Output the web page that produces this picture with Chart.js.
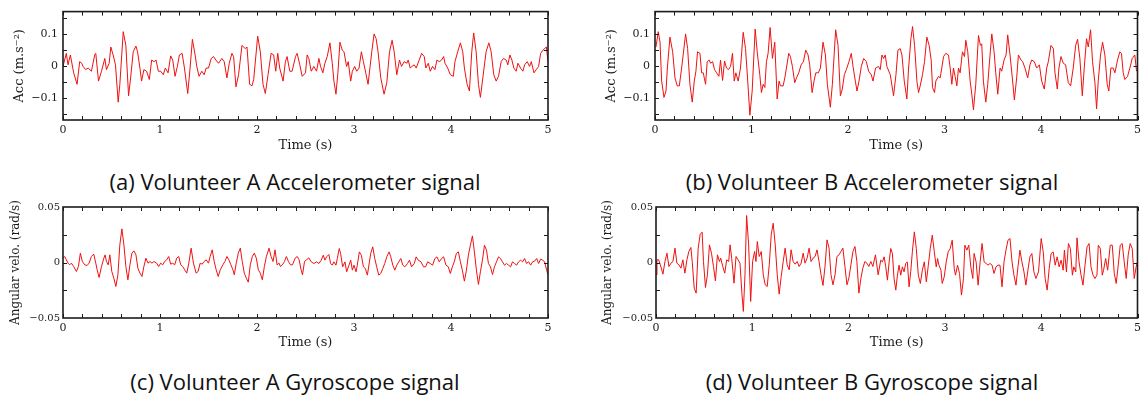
<!DOCTYPE html>
<html>
<head>
<meta charset="utf-8">
<script src="https://cdn.jsdelivr.net/npm/chart.js@4/dist/chart.umd.min.js"></script>
<style>
  body { margin: 0; background: #fff; width: 1145px; height: 396px; position: relative; overflow: hidden; }
  canvas { position: absolute; }
  .cap { position: absolute; font-family: "Open Sans", sans-serif; font-size: 22px; color: #111; text-align: center; white-space: nowrap; line-height: 26px; }
</style>
</head>
<body>
<canvas id="accA" width="560" height="160" style="left:0;top:0"></canvas>
<canvas id="accB" width="553" height="160" style="left:592px;top:0"></canvas>
<canvas id="gyroA" width="560" height="160" style="left:0;top:198px"></canvas>
<canvas id="gyroB" width="553" height="160" style="left:592px;top:198px"></canvas>
<div class="cap" style="left:85px;width:420px;top:168px">(a) Volunteer A Accelerometer signal</div>
<div class="cap" style="left:662px;width:420px;top:168px">(b) Volunteer B Accelerometer signal</div>
<div class="cap" style="left:85px;width:420px;top:368px">(c) Volunteer A Gyroscope signal</div>
<div class="cap" style="left:662px;width:420px;top:368px">(d) Volunteer B Gyroscope signal</div>
<script>
// time ticks (s)
const timeLabels = [0, 1, 2, 3, 4, 5];
const timeMinor = [0, 0.2, 0.4, 0.6, 0.8, 1, 1.2, 1.4, 1.6, 1.8, 2, 2.2, 2.4, 2.6, 2.8, 3,
                   3.2, 3.4, 3.6, 3.8, 4, 4.2, 4.4, 4.6, 4.8, 5];
const accLabels = [-0.1, 0, 0.1];
const accMinor = [-0.15, -0.1, -0.05, 0, 0.05, 0.1, 0.15];
const gyroLabels = [-0.05, 0, 0.05];
const gyroMinor = [-0.025, 0, 0.025];

// Volunteer A accelerometer (m.s^-2)
const accATime = [0, .034, .052, .076, .110, .145, .172, .193, .207, .234, .259, .293, .328, .338, .366, .397,
  .431, .448, .476, .493, .517, .541, .569, .586, .621, .648, .676, .697, .724, .752, .769, .793, .810, .834,
  .862, .890, .914, .938, .959, .983, 1.007, 1.034, 1.055, 1.083, 1.110, 1.131, 1.155, 1.179, 1.200, 1.228,
  1.252, 1.286, 1.310, 1.334, 1.362, 1.379, 1.403, 1.431, 1.455, 1.476, 1.500, 1.528, 1.552, 1.576, 1.603,
  1.638, 1.662, 1.690, 1.714, 1.741, 1.759, 1.783, 1.810, 1.845, 1.879, 1.897, 1.924, 1.948, 1.966, 2.007,
  2.034, 2.062, 2.086, 2.114, 2.145, 2.172, 2.193, 2.214, 2.234, 2.269, 2.293, 2.310, 2.338, 2.362, 2.397,
  2.414, 2.441, 2.466, 2.500, 2.517, 2.534, 2.559, 2.586, 2.614, 2.638, 2.655, 2.679, 2.700, 2.724, 2.752,
  2.776, 2.793, 2.814, 2.834, 2.855, 2.879, 2.897, 2.924, 2.941, 2.966, 2.983, 3.007, 3.028, 3.052, 3.076,
  3.097, 3.121, 3.145, 3.166, 3.183, 3.207, 3.228, 3.248, 3.276, 3.310, 3.338, 3.366, 3.393, 3.414, 3.441,
  3.469, 3.490, 3.517, 3.545, 3.559, 3.579, 3.597, 3.621, 3.641, 3.672, 3.697, 3.724, 3.741, 3.766, 3.786,
  3.810, 3.834, 3.855, 3.879, 3.903, 3.924, 3.938, 3.966, 3.993, 4.024, 4.041, 4.069, 4.097, 4.121, 4.138,
  4.166, 4.190, 4.214, 4.234, 4.259, 4.283, 4.303, 4.328, 4.362, 4.390, 4.414, 4.441, 4.466, 4.490, 4.517,
  4.541, 4.569, 4.586, 4.607, 4.628, 4.648, 4.672, 4.690, 4.717, 4.741, 4.759, 4.786, 4.810, 4.828, 4.855,
  4.879, 4.903, 4.924, 4.948, 4.983, 5.0];
const accAVal = [-.002, .039, .003, .034, -.022, -.058, .013, .008, -.002, -.012, -.007, -.017, .036, .039, -.048, -.017,
  .023, -.012, .008, .059, .034, .003, -.114, -.058, .107, .064, -.094, -.038, .044, .062, .044, -.007, -.048, -.012,
  -.017, -.043, .018, .013, .018, -.017, -.017, -.028, -.007, -.022, .031, .018, -.033, -.002, .034, .039,
  -.007, -.087, -.007, .083, .034, -.002, -.033, -.017, -.028, -.007, -.007, .023, .029, .018, .008,
  .023, .013, -.038, .008, .039, .029, -.066, -.028, .064, .054, .059, -.058, -.063, -.043, .093,
  .044, -.058, -.087, -.028, .039, .034, -.017, .039, -.007, -.048, .013, .029, -.017, -.017, .029,
  .039, .003, -.033, -.022, .034, .023, -.017, -.002, -.017, .023, -.002, -.022, .008, .029, .072,
  .008, -.048, -.089, -.022, .074, .049, .044, -.002, .013, -.048, -.017, -.002, -.017, -.007, .044,
  .013, -.022, -.058, -.002, .044, .100, .085, .044, -.038, -.089, -.053, .044, .080, .044, -.028,
  .018, -.002, .013, .008, .018, -.007, -.002, .003, -.007, .018, .039, .029, -.007, .008, -.017,
  -.002, -.012, .018, .013, .018, .029, .008, -.007, -.028, -.033, .013, .044, .072, .044, -.007,
  -.058, -.079, .044, .103, .044, -.058, -.099, -.038, .044, .072, .044, -.028, -.048, -.033, .013,
  .023, .018, .003, .034, .018, -.007, -.017, .008, -.007, -.017, .003, .013, -.002, .013, -.022,
  -.012, -.002, .039, .049, .059, .013];

// Volunteer B accelerometer (m.s^-2)
const accBTime = [.010, .034, .052, .069, .093, .114, .128, .155, .183, .207, .231, .252, .276, .317, .338, .362,
  .386, .407, .424, .441, .466, .483, .500, .524, .541, .562, .576, .597, .617, .638, .662, .679, .700, .721,
  .741, .762, .783, .803, .821, .838, .862, .886, .914, .938, .959, .983, 1.007, 1.038, 1.059, 1.086, 1.103,
  1.121, 1.138, 1.155, 1.172, 1.193, 1.217, 1.241, 1.266, 1.286, 1.300, 1.328, 1.345, 1.362, 1.386, 1.403,
  1.424, 1.448, 1.466, 1.490, 1.514, 1.538, 1.562, 1.586, 1.603, 1.628, 1.648, 1.666, 1.693, 1.714, 1.741,
  1.766, 1.786, 1.817, 1.838, 1.872, 1.897, 1.921, 1.941, 1.962, 1.983, 2.010, 2.034, 2.052, 2.076, 2.093,
  2.114, 2.138, 2.162, 2.190, 2.214, 2.241, 2.259, 2.286, 2.317, 2.334, 2.352, 2.369, 2.386, 2.403, 2.438,
  2.472, 2.497, 2.517, 2.541, 2.559, 2.583, 2.610, 2.628, 2.652, 2.669, 2.690, 2.714, 2.731, 2.748, 2.772,
  2.793, 2.817, 2.841, 2.862, 2.876, 2.897, 2.910, 2.938, 2.955, 2.972, 2.990, 3.014, 3.041, 3.059, 3.076,
  3.093, 3.110, 3.128, 3.145, 3.162, 3.186, 3.207, 3.221, 3.241, 3.266, 3.283, 3.300, 3.324, 3.352, 3.372,
  3.386, 3.403, 3.428, 3.448, 3.476, 3.490, 3.514, 3.531, 3.552, 3.576, 3.593, 3.617, 3.638, 3.655, 3.679,
  3.703, 3.724, 3.748, 3.766, 3.793, 3.810, 3.834, 3.862, 3.886, 3.903, 3.931, 3.955, 3.983, 4.007, 4.034,
  4.059, 4.076, 4.103, 4.128, 4.145, 4.169, 4.186, 4.207, 4.231, 4.255, 4.283, 4.307, 4.334, 4.359, 4.379,
  4.403, 4.428, 4.448, 4.472, 4.490, 4.514, 4.534, 4.559, 4.576, 4.593, 4.617, 4.638, 4.662, 4.686, 4.703,
  4.724, 4.748, 4.766, 4.793, 4.817, 4.834, 4.852, 4.869, 4.897, 4.921, 4.945, 4.972, 4.990];
const accBVal = [.059, .107, .074, -.048, -.099, -.079, -.007, .090, .044, -.038, -.063, -.063, -.007, .100, .054, -.058,
  -.114, -.048, -.017, .044, .039, -.022, -.022, -.058, .013, .018, .008, .013, -.012, -.022, -.033, .018, -.046, .015,
  -.007, -.012, -.002, .039, -.048, -.022, -.048, -.007, .105, .054, -.038, -.155, -.079, .115, .044, -.028, -.084,
  -.058, -.068, .013, .039, .120, .023, .074, -.104, -.048, -.063, -.063, -.038, -.007, .039, .029,
  -.002, -.053, -.038, -.022, .003, .013, .049, .034, .003, -.084, -.048, -.022, -.022, -.007, .074,
  .034, -.058, -.130, -.058, .113, .064, -.094, -.073, -.028, -.012, .013, .039, -.002, -.048, -.079,
  -.048, -.002, .023, .013, -.017, -.028, -.048, -.007, -.002, -.012, .034, .023, .034, -.002, -.028,
  -.094, -.028, .049, .054, .034, -.048, -.104, -.007, .085, .123, .064, -.048, -.084, -.063, -.028,
  .013, .090, .064, .018, -.068, -.084, -.048, -.033, -.038, -.007, .029, .039, .034, -.007, -.058,
  -.007, -.033, -.063, -.007, -.022, .044, .029, .080, .044, -.048, -.089, -.138, -.058, .095, .064,
  .069, -.048, -.114, -.058, .049, .100, .044, -.022, -.089, -.007, -.017, .018, .034, .097, .034,
  -.038, -.107, -.038, .034, .018, .013, -.007, -.038, .003, .018, .013, -.007, .003, -.048, -.073,
  -.007, .013, .064, .054, -.022, -.073, -.007, .029, .008, .003, -.053, -.063, -.007, .064, .083,
  .023, -.094, -.007, .085, .059, .113, .013, -.053, -.135, -.048, .034, .074, .034, -.058, -.079,
  -.007, -.007, -.022, .018, .044, .039, -.022, -.043, -.033, -.007, .023, .034, -.017];

// Volunteer A gyroscope (rad/s)
const gyroATime = [0, .017, .034, .052, .069, .086, .110, .138, .159, .179, .200, .224, .248, .269, .293, .317,
  .338, .352, .372, .397, .421, .434, .448, .466, .483, .503, .524, .545, .566, .586, .607, .628, .648, .669,
  .690, .710, .731, .752, .772, .793, .814, .834, .855, .876, .897, .917, .938, .966, .986, 1.007, 1.028,
  1.048, 1.069, 1.090, 1.110, 1.131, 1.152, 1.172, 1.193, 1.214, 1.234, 1.255, 1.276, 1.297, 1.321, 1.345,
  1.372, 1.393, 1.414, 1.434, 1.455, 1.476, 1.500, 1.517, 1.538, 1.559, 1.579, 1.600, 1.621, 1.648, 1.669,
  1.690, 1.710, 1.731, 1.752, 1.766, 1.786, 1.807, 1.828, 1.848, 1.869, 1.890, 1.910, 1.931, 1.952, 1.972,
  1.993, 2.014, 2.034, 2.055, 2.076, 2.097, 2.124, 2.145, 2.166, 2.186, 2.207, 2.228, 2.241, 2.262, 2.283,
  2.303, 2.324, 2.345, 2.366, 2.393, 2.414, 2.434, 2.455, 2.469, 2.490, 2.510, 2.534, 2.559, 2.586, 2.614,
  2.638, 2.662, 2.683, 2.700, 2.717, 2.741, 2.759, 2.776, 2.793, 2.814, 2.828, 2.848, 2.862, 2.883, 2.907,
  2.924, 2.948, 2.966, 2.983, 3.000, 3.021, 3.034, 3.055, 3.076, 3.097, 3.117, 3.138, 3.159, 3.172, 3.193,
  3.214, 3.234, 3.255, 3.276, 3.297, 3.317, 3.338, 3.362, 3.379, 3.400, 3.421, 3.441, 3.462, 3.483, 3.503,
  3.524, 3.552, 3.572, 3.593, 3.621, 3.641, 3.662, 3.690, 3.717, 3.738, 3.759, 3.786, 3.810, 3.834, 3.855,
  3.879, 3.903, 3.924, 3.948, 3.972, 3.993, 4.014, 4.034, 4.055, 4.076, 4.097, 4.117, 4.138, 4.159, 4.179,
  4.200, 4.221, 4.241, 4.262, 4.283, 4.303, 4.324, 4.345, 4.366, 4.386, 4.407, 4.428, 4.448, 4.469, 4.490,
  4.510, 4.531, 4.552, 4.572, 4.593, 4.614, 4.634, 4.655, 4.676, 4.697, 4.717, 4.738, 4.759, 4.779, 4.800,
  4.821, 4.841, 4.862, 4.883, 4.903, 4.924, 4.945, 4.966, 4.986, 5.0];
const gyroAVal = [.0039, .0054, .0024, -.0006, -.0021, -.0006, -.0036, -.0081, -.0036, .0084, .0009, -.0021, -.0027, -.0006, .0054, .0075,
  -.0006, -.0066, -.0135, -.0036, .0039, .0069, .0009, -.0021, .0069, -.0081, -.0141, -.0216, -.0111, .0159, .0303, .0159, -.0036, -.0156,
  -.0021, .0084, .0105, .0069, -.0051, -.0096, -.0126, -.0036, .0039, -.0006, .0009, -.0006, .0009, -.0006, -.0036, -.0006, -.0021,
  .0009, .0024, .0054, -.0015, -.0006, -.0021, .0039, .0054, -.0021, -.0036, -.0066, -.0096, -.0006, .0129, -.0006,
  -.0096, -.0081, -.0006, -.0015, .0009, .0024, -.0006, .0054, .0114, .0009, -.0066, -.0126, -.0066, -.0021, .0009,
  .0054, .0024, -.0021, -.0066, -.0111, -.0006, .0084, .0129, .0009, -.0096, -.0141, -.0177, -.0021, .0054, .0084,
  .0039, -.0066, -.0096, -.0156, -.0036, .0054, .0129, .0054, .0009, .0114, -.0021, -.0006, -.0036, -.0021, .0009,
  .0054, .0009, -.0021, -.0021, .0039, .0054, .0024, -.0066, -.0111, .0009, .0024, .0042, .0006, -.0009, .0006,
  -.0009, .0021, .0066, .0021, .0051, .0072, -.0009, -.0024, .0006, -.0024, .0036, .0126, .0081, -.0039, .0006,
  -.0084, -.0024, .0021, -.0069, -.0024, -.0084, -.0024, .0096, .0066, -.0039, -.0054, -.0114, .0006, .0081, .0141,
  .0036, -.0039, -.0114, -.0099, -.0054, -.0009, .0051, .0096, .0051, -.0024, -.0069, -.0024, .0006, .0036, -.0024,
  -.0039, -.0009, .0021, -.0039, -.0009, .0051, .0021, .0006, -.0039, -.0039, .0006, -.0009, -.0024, .0036, .0051,
  .0006, .0036, .0051, -.0024, -.0039, -.0099, -.0039, .0006, .0081, .0096, .0006, -.0069, -.0168, -.0069, .0066,
  .0156, .0240, .0096, -.0069, -.0198, -.0084, .0021, .0156, .0111, -.0009, -.0039, -.0108, -.0039, .0006, .0051,
  .0036, .0006, -.0024, -.0009, -.0024, -.0039, .0006, -.0009, -.0024, .0006, .0021, .0006, .0036, -.0009, .0006,
  -.0024, .0006, .0012, .0036, -.0009, .0030, .0021, .0006, -.0069, -.0114];

// Volunteer B gyroscope (rad/s)
const gyroBTime = [0, .010, .028, .045, .072, .093, .114, .134, .155, .176, .197, .217, .238, .259, .279, .300,
  .321, .341, .362, .376, .397, .417, .438, .459, .479, .493, .514, .534, .555, .576, .597, .617, .638, .659,
  .672, .693, .714, .734, .755, .769, .786, .810, .831, .852, .872, .893, .907, .924, .941, .962, .983, 1.003,
  1.024, 1.038, 1.052, 1.072, 1.093, 1.114, 1.134, 1.155, 1.176, 1.197, 1.217, 1.238, 1.259, 1.279, 1.300,
  1.321, 1.341, 1.362, 1.383, 1.403, 1.424, 1.445, 1.466, 1.486, 1.507, 1.528, 1.548, 1.569, 1.590, 1.610,
  1.631, 1.652, 1.672, 1.693, 1.714, 1.734, 1.755, 1.776, 1.797, 1.817, 1.838, 1.859, 1.879, 1.900, 1.921,
  1.941, 1.962, 1.983, 2.003, 2.024, 2.045, 2.066, 2.086, 2.107, 2.128, 2.148, 2.169, 2.190, 2.210, 2.231,
  2.252, 2.279, 2.307, 2.334, 2.352, 2.369, 2.386, 2.403, 2.421, 2.438, 2.455, 2.472, 2.490, 2.507, 2.524,
  2.541, 2.559, 2.576, 2.593, 2.610, 2.628, 2.645, 2.662, 2.683, 2.703, 2.724, 2.745, 2.766, 2.786, 2.807,
  2.828, 2.848, 2.869, 2.890, 2.910, 2.924, 2.938, 2.959, 2.972, 2.993, 3.014, 3.034, 3.055, 3.076, 3.097,
  3.110, 3.131, 3.152, 3.172, 3.193, 3.207, 3.228, 3.248, 3.269, 3.290, 3.303, 3.324, 3.345, 3.366, 3.386,
  3.407, 3.428, 3.448, 3.469, 3.490, 3.510, 3.531, 3.552, 3.572, 3.593, 3.614, 3.634, 3.655, 3.676, 3.697,
  3.717, 3.738, 3.759, 3.779, 3.800, 3.821, 3.841, 3.862, 3.883, 3.903, 3.924, 3.945, 3.972, 4.000, 4.021,
  4.041, 4.062, 4.083, 4.103, 4.124, 4.145, 4.166, 4.186, 4.207, 4.228, 4.241, 4.262, 4.283, 4.303, 4.324,
  4.338, 4.359, 4.372, 4.393, 4.414, 4.434, 4.455, 4.476, 4.497, 4.517, 4.538, 4.559, 4.579, 4.593, 4.614,
  4.634, 4.648, 4.669, 4.690, 4.717, 4.738, 4.759, 4.779, 4.800, 4.821, 4.841, 4.862, 4.883, 4.903, 4.924,
  4.945, 4.966, 4.986, 5.0];
const gyroBVal = [-.0111, .0024, .0024, -.0021, -.0105, .0009, .0084, -.0036, -.0006, .0009, .0129, -.0006, -.0021, -.0051, .0024, -.0096,
  .0024, .0099, .0135, .0009, -.0231, -.0276, .0129, .0255, .0273, .0009, -.0225, -.0111, .0159, .0084, -.0036, -.0165, .0069, .0009,
  .0039, -.0036, -.0096, .0024, .0009, .0159, .0039, -.0186, .0054, .0024, -.0006, -.0291, -.0441, -.0111, .0423, .0159, -.0351, .0009,
  .0099, .0009, .0189, .0054, .0099, -.0111, -.0201, -.0216, -.0021, .0255, .0354, .0159, -.0111, -.0285, -.0126,
  .0009, .0129, -.0021, -.0066, .0114, .0009, -.0015, .0009, -.0036, -.0006, .0084, -.0006, .0039, .0129, .0009,
  .0039, .0054, .0114, .0009, -.0111, -.0207, -.0036, .0204, .0129, -.0111, -.0201, -.0111, .0054, .0069, .0099,
  .0129, -.0036, -.0201, -.0141, -.0021, .0099, .0144, .0009, -.0276, -.0141, -.0051, .0009, -.0006, -.0036, .0009,
  -.0036, .0069, -.0111, .0021, .0006, .0051, -.0039, -.0159, .0006, .0126, .0081, -.0144, -.0249, -.0114, -.0024,
  -.0114, -.0039, -.0084, -.0009, .0006, -.0219, -.0084, .0096, .0276, .0126, -.0114, -.0189, -.0069, .0006, -.0174,
  -.0024, .0126, .0246, .0096, -.0039, .0036, -.0024, -.0069, -.0189, -.0129, .0006, .0096, .0126, .0201, -.0054,
  -.0114, -.0024, -.0099, -.0294, -.0144, .0156, .0111, .0156, -.0039, -.0144, .0081, .0006, -.0204, .0006, .0171,
  .0006, -.0009, -.0024, -.0009, -.0024, -.0099, -.0039, -.0024, -.0024, -.0219, .0006, .0111, .0201, .0216, .0006,
  -.0114, -.0204, -.0039, .0111, .0006, -.0084, -.0204, -.0069, .0051, .0081, -.0084, -.0144, -.0084, .0216, .0096,
  -.0144, -.0249, -.0054, .0081, .0096, -.0024, .0051, -.0039, .0021, -.0069, .0111, -.0084, .0171, .0126, -.0114,
  -.0039, -.0084, .0222, .0006, -.0114, -.0204, -.0024, .0141, .0171, -.0039, -.0114, -.0144, -.0114, .0156, .0126,
  -.0114, -.0069, .0036, -.0069, .0156, .0156, -.0099, -.0189, -.0024, .0156, .0171, .0006, -.0144, .0066, .0171,
  .0126, -.0144, -.0039, .0006];

const axisInk = '#1c1c1c';
const lineRed = '#ee1111';

// matplotlib-like frame with inward ticks on all four sides
const frameTicks = {
  id: 'frameTicks',
  afterDatasetsDraw(chart, args, opts) {
    const { ctx, chartArea: a, scales: { x, y } } = chart;
    ctx.save();
    ctx.strokeStyle = axisInk;
    ctx.lineWidth = 1;
    ctx.beginPath();
    opts.xTicks.forEach(v => {
      const px = Math.round(x.getPixelForValue(v)) + 0.5;
      ctx.moveTo(px, a.top); ctx.lineTo(px, a.top + 4);
      ctx.moveTo(px, a.bottom); ctx.lineTo(px, a.bottom - 4);
    });
    opts.yTicks.forEach(v => {
      const py = Math.round(y.getPixelForValue(v)) + 0.5;
      ctx.moveTo(a.left, py); ctx.lineTo(a.left + 4, py);
      ctx.moveTo(a.right, py); ctx.lineTo(a.right - 4, py);
    });
    ctx.stroke();
    ctx.lineWidth = 1.6;
    ctx.strokeRect(a.left, a.top, a.right - a.left, a.bottom - a.top);
    ctx.restore();
  }
};

function fmt(v) {
  return v === 0 ? '0' : (v < 0 ? '\u2212' : '') + String(Math.abs(v));
}

function makePanel(id, times, vals, o) {
  new Chart(document.getElementById(id), {
    type: 'line',
    data: {
      datasets: [{
        data: times.map((t, i) => ({ x: t, y: vals[i] })),
        borderColor: lineRed,
        borderWidth: 1,
        pointRadius: 0,
        tension: 0,
        fill: false
      }]
    },
    options: {
      responsive: false,
      animation: false,
      events: [],
      layout: { padding: { top: 9, right: o.padRight, left: 0, bottom: 0 } },
      plugins: {
        legend: { display: false },
        tooltip: { enabled: false },
        frameTicks: { xTicks: timeMinor, yTicks: o.yMinor }
      },
      scales: {
        x: {
          type: 'linear', min: 0, max: 5,
          afterBuildTicks: s => { s.ticks = timeLabels.map(v => ({ value: v })); },
          afterFit: s => { s.height = 40; },
          grid: { display: false, drawTicks: false },
          border: { display: false },
          ticks: { color: axisInk, padding: 4, maxRotation: 0, font: { family: 'DejaVu Serif', size: 11 },
                   callback: v => String(v) },
          title: { display: true, text: 'Time (s)', color: axisInk,
                   font: { family: 'DejaVu Serif', size: 13 }, padding: { top: 0, bottom: o.xTitlePad } }
        },
        y: {
          type: 'linear', min: o.yMin, max: o.yMax,
          afterBuildTicks: s => { s.ticks = o.yLabels.map(v => ({ value: v })); },
          afterFit: s => { s.width = o.yWidth; },
          grid: { display: false, drawTicks: false },
          border: { display: false },
          ticks: { color: axisInk, padding: o.yTickPad, font: { family: 'DejaVu Serif', size: o.yTickSize },
                   callback: v => fmt(v) },
          title: { display: true, text: o.yTitle, color: axisInk,
                   font: { family: 'DejaVu Serif', size: o.yTitleSize }, padding: { top: o.yTitlePad, bottom: 0 } }
        }
      }
    },
    plugins: [frameTicks]
  });
}

const accOpts = { yMin: -0.17, yMax: 0.17, yLabels: accLabels, yMinor: accMinor, yTitle: 'Acc (m.s\u207B\u00B2)',
  yTitleSize: 13, yTitlePad: 12, yTickSize: 11, yTickPad: 5, xTitlePad: 7 };
const gyroOpts = { yMin: -0.05, yMax: 0.05, yLabels: gyroLabels, yMinor: gyroMinor, yTitle: 'Angular velo. (rad/s)',
  yTitleSize: 12, yTitlePad: 9, yTickSize: 10, yTickPad: 3, xTitlePad: 8 };

makePanel('accA', accATime, accAVal, Object.assign({}, accOpts, { padRight: 12, yWidth: 63 }));
makePanel('accB', accBTime, accBVal, Object.assign({}, accOpts, { padRight: 6, yWidth: 63 }));
makePanel('gyroA', gyroATime, gyroAVal, Object.assign({}, gyroOpts, { padRight: 12, yWidth: 63 }));
makePanel('gyroB', gyroBTime, gyroBVal, Object.assign({}, gyroOpts, { padRight: 6, yWidth: 64 }));
</script>
</body>
</html>
